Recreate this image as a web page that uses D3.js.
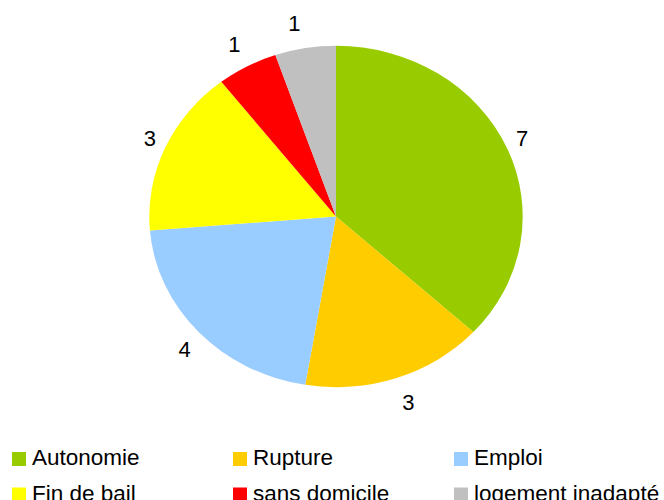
<!DOCTYPE html>
<html>
<head>
<meta charset="utf-8">
<script src="https://cdn.jsdelivr.net/npm/d3@7"></script>
<style>
  html, body { margin: 0; padding: 0; background: #fff; }
  svg { display: block; }
  text { font-family: "Liberation Sans", Arial, sans-serif; fill: #000; }
</style>
</head>
<body>
<svg id="chart" width="664" height="500"></svg>
<script>
const categories = ["Autonomie", "Rupture", "Emploi", "Fin de bail", "sans domicile", "logement inadapté"];
const values = [7, 3, 4, 3, 1, 1];
const colors = ["#99CC00", "#FFCC00", "#99CCFF", "#FFFF00", "#FF0000", "#C0C0C0"];

const W = 664, H = 500;
const cx = 336, cy = 216.5, rx = 186.7, ry = 170.7;
const fontSize = 22;

const svg = d3.select("#chart");
const data = categories.map((c, i) => ({ cat: c, value: values[i], color: colors[i] }));

const pie = d3.pie().sort(null).value(d => d.value);
const arcs = pie(data);
const arc = d3.arc().innerRadius(0).outerRadius(rx);

const g = svg.append("g").attr("transform", `translate(${cx},${cy}) scale(1,${ry / rx})`);
g.selectAll("path").data(arcs).enter().append("path")
  .attr("d", arc)
  .attr("fill", d => d.data.color);

// data labels
svg.append("g").selectAll("text").data(arcs).enter().append("text")
  .attr("x", d => {
    const a = (d.startAngle + d.endAngle) / 2;
    const s = Math.sin(a);
    return cx + rx * 1.03 * s + 10 * Math.sign(s);
  })
  .attr("y", d => {
    const a = (d.startAngle + d.endAngle) / 2;
    return cy - ry * 1.15 * Math.cos(a) + fontSize * 0.36;
  })
  .attr("text-anchor", "middle")
  .style("font-size", fontSize + "px")
  .text(d => d.data.value);

// legend
const colX = d3.scaleBand().domain([0, 1, 2]).range([12, 12 + 221 * 3]);
const rowY = d3.scaleBand().domain([0, 1]).range([452, 452 + 35.5 * 2]);
const leg = svg.append("g").selectAll("g").data(data).enter().append("g")
  .attr("transform", (d, i) => `translate(${colX(i % 3)},${rowY(Math.floor(i / 3))})`);
leg.append("rect").attr("x", 0).attr("y", 0).attr("width", 14).attr("height", 14)
  .attr("fill", d => d.color);
leg.append("text").attr("x", 20).attr("y", 13)
  .style("font-size", "22.5px")
  .text(d => d.cat);
</script>
</body>
</html>
